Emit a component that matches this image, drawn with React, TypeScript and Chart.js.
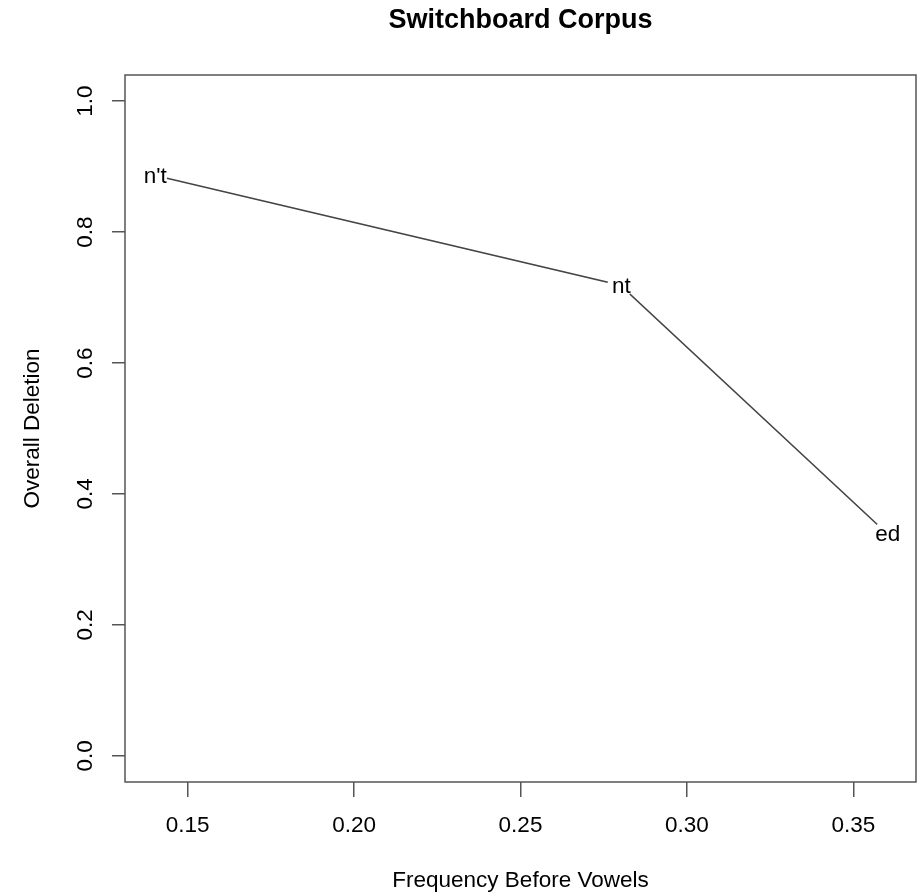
import React, { useEffect, useRef } from "react";
import { Chart, registerables } from "chart.js";

Chart.register(...registerables);

// ---- data ----
const pointLabels = ["n't", "nt", "ed"];
const freqBeforeVowels = [0.14, 0.28, 0.36];
const overallDeletion = [0.887, 0.719, 0.34];

const xTickValues = [0.15, 0.2, 0.25, 0.3, 0.35];
const xTickLabels = ["0.15", "0.20", "0.25", "0.30", "0.35"];
const yTickValues = [0, 0.2, 0.4, 0.6, 0.8, 1.0];
const yTickLabels = ["0.0", "0.2", "0.4", "0.6", "0.8", "1.0"];

const chartTitle = "Switchboard Corpus";
const xTitle = "Frequency Before Vowels";
const yTitle = "Overall Deletion";

const FAMILY = '"Liberation Sans", Arial, Helvetica, sans-serif';
const AXIS_COLOR = "#555";

function labelFor(values: number[], labels: string[], v: number) {
  const i = values.findIndex((t) => Math.abs(t - v) < 1e-9);
  return i >= 0 ? labels[i] : "";
}

const annotate = {
  id: "annotate",
  afterDatasetsDraw(chart: any) {
    const ctx = chart.ctx;
    const meta = chart.getDatasetMeta(0);
    const a = chart.chartArea;
    ctx.save();
    meta.data.forEach((pt: any, i: number) => {
      ctx.fillStyle = "#fff";
      ctx.beginPath();
      ctx.arc(pt.x, pt.y, 13, 0, Math.PI * 2);
      ctx.fill();
      ctx.fillStyle = "#000";
      ctx.font = `22.5px ${FAMILY}`;
      ctx.textAlign = "center";
      ctx.textBaseline = "middle";
      ctx.fillText(pointLabels[i], pt.x + 1, pt.y + 2);
    });
    ctx.strokeStyle = AXIS_COLOR;
    ctx.lineWidth = 1.5;
    ctx.strokeRect(a.left, a.top, a.right - a.left, a.bottom - a.top);
    ctx.fillStyle = "#000";
    ctx.font = `bold 27px ${FAMILY}`;
    ctx.textAlign = "center";
    ctx.textBaseline = "alphabetic";
    ctx.fillText(chartTitle, (a.left + a.right) / 2, 28);
    ctx.restore();
  },
};

export default function App() {
  const ref = useRef<HTMLCanvasElement | null>(null);

  useEffect(() => {
    if (!ref.current) return;
    const font = { family: FAMILY, size: 22.5 };
    const chart = new Chart(ref.current, {
      type: "scatter",
      data: {
        datasets: [
          {
            label: yTitle,
            data: freqBeforeVowels.map((x, i) => ({ x, y: overallDeletion[i] })),
            showLine: true,
            borderColor: "#444",
            borderWidth: 1.6,
            pointRadius: 0,
            fill: false,
            tension: 0,
          },
        ],
      },
      options: {
        animation: false,
        responsive: false,
        maintainAspectRatio: false,
        layout: { padding: { left: 0, right: 4, top: 75, bottom: 0 } },
        plugins: {
          legend: { display: false },
          tooltip: { enabled: false },
          title: { display: false },
        },
        scales: {
          x: {
            type: "linear",
            min: 0.1312,
            max: 0.3688,
            afterBuildTicks: (s: any) => {
              s.ticks = xTickValues.map((v) => ({ value: v }));
            },
            afterFit: (s: any) => {
              s.height = 112;
            },
            grid: {
              drawOnChartArea: false,
              drawTicks: true,
              tickLength: 15,
              color: AXIS_COLOR,
              lineWidth: 1.5,
            },
            border: { display: false },
            ticks: {
              autoSkip: false,
              maxRotation: 0,
              minRotation: 0,
              padding: 15.5,
              color: "#000",
              font,
              callback: (v: any) => labelFor(xTickValues, xTickLabels, Number(v)),
            },
            title: {
              display: true,
              text: xTitle,
              color: "#000",
              font,
              padding: { top: 0, bottom: 0 },
            },
          },
          y: {
            type: "linear",
            min: -0.04,
            max: 1.04,
            afterBuildTicks: (s: any) => {
              s.ticks = yTickValues.map((v) => ({ value: v }));
            },
            afterFit: (s: any) => {
              s.width = 125;
            },
            grid: {
              drawOnChartArea: false,
              drawTicks: true,
              tickLength: 13,
              color: AXIS_COLOR,
              lineWidth: 1.5,
            },
            border: { display: false },
            ticks: {
              autoSkip: false,
              minRotation: 90,
              maxRotation: 90,
              crossAlign: "center",
              padding: 11,
              color: "#000",
              font,
              callback: (v: any) => labelFor(yTickValues, yTickLabels, Number(v)),
            },
            title: {
              display: true,
              text: yTitle,
              color: "#000",
              font,
              padding: { top: 19, bottom: 0 },
            },
          },
        },
      },
      plugins: [annotate],
    } as any);
    return () => chart.destroy();
  }, []);

  return (
    <div style={{ position: "absolute", left: 0, top: 0, width: 920, height: 894, background: "#fff" }}>
      <canvas ref={ref} width={920} height={894} style={{ display: "block" }} />
    </div>
  );
}
